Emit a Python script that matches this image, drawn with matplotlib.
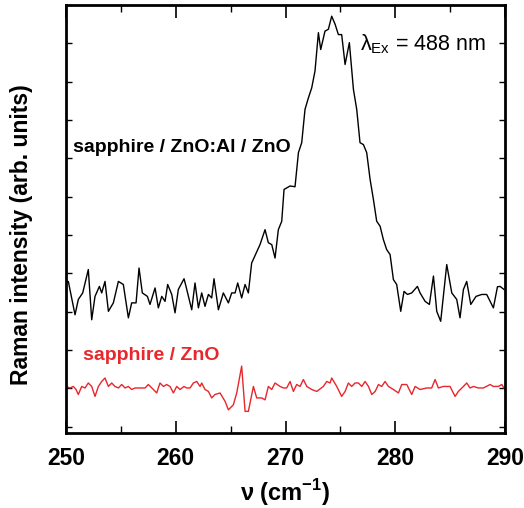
import numpy as np
import matplotlib
matplotlib.use('Agg')
import matplotlib.pyplot as plt

plt.rcParams['font.family'] = ['Liberation Sans', 'DejaVu Sans']
plt.rcParams['mathtext.fontset'] = 'custom'
plt.rcParams['mathtext.rm'] = 'Liberation Sans'
plt.rcParams['mathtext.bf'] = 'Liberation Sans:bold'

# sapphire / ZnO:Al / ZnO (black)
nu_al = [250.00, 250.21, 250.82, 251.12, 251.52, 252.03, 252.34, 252.64, 253.04, 253.25,
         253.55, 253.86, 254.31, 254.77, 255.22, 255.68, 255.98, 256.38, 256.65, 256.95,
         257.41, 257.65, 258.11, 258.41, 258.72, 259.02, 259.26, 259.63, 259.93, 260.23,
         260.75, 260.93, 261.45, 261.75, 262.06, 262.36, 262.66, 262.97, 263.27, 263.48,
         263.88, 264.33, 264.79, 265.09, 265.40, 265.64, 266.00, 266.31, 266.61, 266.91,
         267.67, 268.13, 268.43, 268.74, 269.04, 269.34, 269.65, 269.86, 270.41, 270.86,
         271.17, 271.47, 271.77, 272.08, 272.38, 272.68, 272.99, 273.20, 273.59, 273.90,
         274.20, 274.51, 274.81, 275.11, 275.42, 275.81, 276.18, 276.48, 276.78, 277.09,
         277.39, 277.70, 278.00, 278.30, 278.61, 278.91, 279.21, 279.52, 279.82, 280.12,
         280.49, 280.79, 281.10, 281.49, 282.01, 282.25, 282.71, 283.10, 283.47, 283.77,
         284.13, 284.68, 285.14, 285.59, 285.89, 286.20, 286.50, 286.87, 287.35, 287.87,
         288.32, 288.93, 289.30, 289.54, 289.90]
int_al = [3.75, 3.79, 2.92, 3.32, 3.49, 4.10, 2.79, 3.40, 3.66, 3.49,
          3.79, 3.01, 3.23, 3.79, 3.71, 2.84, 3.23, 3.23, 4.14, 3.49,
          3.40, 3.19, 3.62, 3.10, 3.40, 3.27, 3.71, 3.45, 2.97, 3.58,
          3.86, 3.66, 3.05, 3.75, 3.10, 3.49, 3.14, 3.45, 3.36, 3.86,
          3.05, 3.49, 3.23, 3.49, 3.49, 3.75, 3.36, 3.71, 3.49, 4.27,
          4.75, 5.14, 4.80, 4.75, 4.40, 5.14, 5.36, 6.19, 6.28, 6.26,
          7.15, 7.41, 8.28, 8.58, 8.84, 9.28, 10.28, 9.84, 10.32, 10.37,
          10.71, 10.50, 10.23, 10.23, 9.45, 10.02, 8.80, 8.28, 7.41, 7.36,
          7.15, 6.45, 5.93, 5.36, 5.23, 4.88, 4.62, 4.49, 3.84, 3.71,
          3.01, 3.53, 3.45, 3.49, 3.66, 3.49, 3.27, 3.19, 3.93, 3.01,
          2.75, 4.23, 3.49, 3.32, 2.84, 3.58, 3.79, 3.19, 3.40, 3.45,
          3.45, 3.10, 3.65, 3.66, 3.58]

# sapphire / ZnO (red)
nu_zno = [250.00, 250.36, 250.67, 250.91, 251.12, 251.43, 251.73, 252.03, 252.34, 252.64,
          252.95, 253.25, 253.55, 253.86, 254.16, 254.46, 254.77, 255.07, 255.38, 255.68,
          255.98, 256.29, 256.74, 257.20, 257.50, 257.96, 258.26, 258.56, 258.87, 259.17,
          259.47, 259.78, 260.08, 260.39, 260.75, 260.99, 261.30, 261.60, 261.90, 262.21,
          262.36, 262.66, 262.97, 263.27, 263.57, 264.03, 264.49, 264.79, 265.24, 265.55,
          266.00, 266.31, 266.61, 267.07, 267.37, 267.83, 268.13, 268.43, 268.74, 269.04,
          269.50, 269.80, 270.10, 270.41, 270.71, 271.01, 271.32, 271.62, 271.93, 272.38,
          272.84, 273.44, 273.75, 274.05, 274.20, 274.66, 275.11, 275.42, 275.72, 276.02,
          276.33, 276.63, 276.94, 277.24, 277.55, 277.85, 278.16, 278.46, 278.76, 279.06,
          279.37, 279.82, 280.28, 280.58, 281.04, 281.49, 281.80, 282.25, 282.86, 283.31,
          283.62, 283.92, 284.38, 284.98, 285.44, 285.74, 286.20, 286.50, 286.80, 287.11,
          287.56, 288.02, 288.63, 288.93, 289.39, 289.69, 289.99]
int_zno = [1.05, 1.01, 1.05, 0.97, 0.84, 1.05, 1.01, 1.14, 1.05, 0.79,
           1.05, 1.18, 1.27, 1.05, 1.14, 1.05, 1.01, 1.10, 1.01, 1.05,
           0.97, 1.01, 1.01, 1.01, 1.10, 0.97, 0.88, 1.14, 1.05, 1.10,
           1.05, 0.88, 1.05, 0.97, 1.05, 1.01, 1.01, 1.14, 1.18, 1.05,
           1.14, 0.97, 0.92, 0.75, 0.84, 0.88, 0.66, 0.44, 0.57, 0.88,
           1.58, 0.40, 0.40, 1.05, 0.75, 0.75, 0.70, 1.05, 0.97, 1.14,
           1.05, 1.01, 1.01, 1.18, 0.92, 1.10, 1.05, 1.23, 1.05, 0.97,
           0.92, 1.05, 1.18, 1.14, 1.27, 1.05, 0.79, 0.92, 1.14, 1.05,
           1.14, 1.14, 1.05, 1.18, 1.05, 0.84, 0.92, 1.10, 1.05, 1.18,
           1.05, 0.97, 0.88, 1.10, 1.10, 0.84, 1.05, 0.97, 1.01, 1.01,
           1.23, 1.01, 1.05, 1.05, 0.79, 0.92, 1.05, 1.14, 1.01, 1.05,
           1.01, 1.01, 1.10, 1.05, 1.05, 1.10, 0.97]

xticks = [250, 260, 270, 280, 290]

fig = plt.figure(figsize=(5.24, 5.08), dpi=100)
ax = fig.add_axes([0.126, 0.148, 0.838, 0.842])

ax.plot(nu_al, int_al, color='black', lw=1.0)
ax.plot(nu_zno, int_zno, color='#e8262b', lw=1.0)

ax.set_xlim(250, 290)
ax.set_ylim(-0.16, 11.0)
ax.set_xticks(xticks)
ax.set_xticks(np.arange(255, 290, 10), minor=True)
ax.set_yticks(np.arange(0, 12))
ax.set_yticklabels([])
ax.tick_params(axis='x', which='major', direction='in', length=9, width=1.2,
               top=True, labelsize=16.5, pad=10)
ax.tick_params(axis='x', which='minor', direction='in', length=5, width=1.0, top=True)
ax.tick_params(axis='y', which='major', direction='in', length=4, width=1.0, right=True)
for lab in ax.get_xticklabels():
    lab.set_fontweight('bold')
for sp in ax.spines.values():
    sp.set_linewidth(2.0)

ax.set_xlabel(r'ν (cm$^{\mathbf{-1}}$)', fontsize=17, fontweight='bold', labelpad=5)
ax.set_ylabel('Raman intensity (arb. units)', fontsize=16.5, fontweight='bold')
ax.yaxis.set_label_coords(-0.075, 0.463)

ax.text(250.64, 7.28, 'sapphire / ZnO:Al / ZnO', fontsize=14, fontweight='bold',
        va='center', ha='left')
ax.text(251.55, 1.85, 'sapphire / ZnO', fontsize=14, fontweight='bold',
        color='#e8262b', va='center', ha='left')
ax.text(276.79, 9.97, r'λ$_{\mathrm{Ex}}$ = 488 nm', fontsize=15.5, va='center', ha='left')

fig.savefig('out.png', dpi=100)
